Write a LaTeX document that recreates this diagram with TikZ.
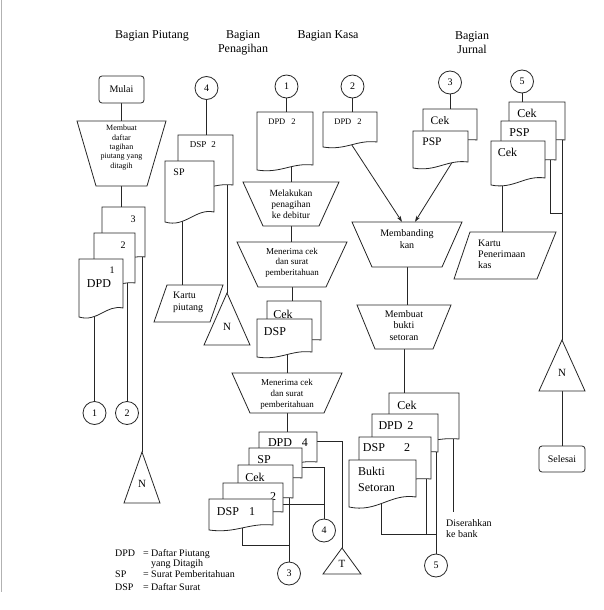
\documentclass[tikz,border=0pt]{standalone}
\usepackage{fontspec}
\setmainfont{Liberation Serif}
\usetikzlibrary{arrows.meta,calc,fit}
\pgfdeclarelayer{bg}
\pgfsetlayers{bg,main}
\newcommand\fsz[2]{\fontsize{#1}{#2}\selectfont}
% document symbol: name, x1, ytop, x2, y right bottom, y left bottom
\newcommand\mydoc[6]{%
 \pgfmathsetmacro\dwa{#2+0.42*(#4-#2)}%
 \pgfmathsetmacro\dwb{#2+0.62*(#4-#2)}%
 \pgfmathsetmacro\dwy{#6+0.45*(#6-#5)+1.5}%
 \pgfmathsetmacro\dwz{#5-0.3*(#6-#5)-1}%
 \filldraw[shp] (#2,#3) -- (#4,#3) -- (#4,#5) .. controls (\dwb,\dwz) and (\dwa,\dwy) .. (#2,#6) -- cycle;
 \node[fit={(#2,#3) (#4,#5)}, inner sep=0pt] (#1) {};}
% quadrilateral: name, xTL, xTR, yT, xBL, xBR, yB
\newcommand\myquad[7]{%
 \filldraw[shp] (#2,#4) -- (#3,#4) -- (#6,#7) -- (#5,#7) -- cycle;
 \pgfmathsetmacro\qa{min(#2,#5)}\pgfmathsetmacro\qb{max(#3,#6)}%
 \node[fit={(\qa,#4) (\qb,#7)}, inner sep=0pt] (#1) {};}
% triangle: name, apex x, apex y, xL, xR, yB
\newcommand\mytri[6]{%
 \filldraw[shp] (#2,#3) -- (#5,#6) -- (#4,#6) -- cycle;
 \node[fit={(#4,#3) (#5,#6)}, inner sep=0pt] (#1) {};}
\tikzset{
 shp/.style={line width=0.8pt, draw=black!85, fill=white},
 conn/.style={line width=0.8pt, draw=black!85},
 arr/.style={conn, -{Stealth[length=6pt,width=4pt]}},
 circ/.style={circle, draw=black!85, line width=0.8pt, fill=white, minimum size=23pt, inner sep=0pt, font={\fsz{10}{10}}},
 term/.style={rectangle, rounded corners=3pt, draw=black!85, line width=0.8pt, fill=white, inner sep=0pt},
 tx/.style={inner sep=0pt, align=center},
 txl/.style={inner sep=0pt, align=left}
}
\begin{document}
\begin{tikzpicture}[x=1pt,y=-1pt,font={\fsz{12}{14}}]
\useasboundingbox (0,0) rectangle (603,610);
\begin{pgfonlayer}{bg}
\fill[white] (0,0) rectangle (603,610);
\end{pgfonlayer}
\draw[black!30, line width=1pt] (1,0) -- (1,592);
% headers
\node[tx] (h1) at (152,36) {Bagian Piutang};
\node[tx] (h2) at (243,43) {Bagian\\Penagihan};
\node[tx] (h3) at (328,36) {Bagian Kasa};
\node[tx] (h4) at (472,43) {Bagian\\Jurnal};
% ---- Piutang
\node[term, minimum width=45pt, minimum height=27pt, font={\fsz{10}{12}}] (mulai) at (121.5,89.5) {Mulai};
\myquad{tr1}{77}{166}{121}{96}{147}{186}
\node[tx, font={\fsz{8}{9.3}}] (tr1t) at (121.5,147.5) {Membuat\\daftar\\tagihan\\piutang yang\\ditagih};
\mydoc{p3}{102}{207}{145}{257}{262}
\node[tx,font={\fsz{10}{12}}] (p3t) at (133,219) {3};
\mydoc{p2}{94}{233}{135}{283}{288}
\node[tx,font={\fsz{10}{12}}] (p2t) at (123,245) {2};
\mydoc{p1}{79}{259}{123}{308}{317}
\node[tx,font={\fsz{10}{12}}] (p1t) at (112,270) {1};
\node[tx] (p1u) at (99,284) {DPD};
\node[circ] (c1a) at (94.5,413) {1};
\node[circ] (c2a) at (127,413) {2};
\mytri{n1}{142}{452}{124}{160}{503}
\node[tx,font={\fsz{11}{12}}] (n1t) at (142,484) {N};
% ---- Penagihan (4)
\node[circ] (c4a) at (206.5,88) {4};
\mydoc{dsa}{178}{135}{233}{185}{190}
\node[tx,font={\fsz{9}{10}}] (dsat) at (203,145) {DSP\hspace{5pt}2};
\mydoc{spa}{165}{161}{214}{212}{222}
\node[tx,font={\fsz{10}{12}}] (spat) at (179,172) {SP};
\myquad{kp}{167}{223}{285}{154}{210}{322}
\node[txl,font={\fsz{10}{12}},anchor=west] (kpt) at (173,302) {Kartu\\piutang};
\mytri{n2}{227}{293}{204}{250}{345}
\node[tx,font={\fsz{11}{12}}] (n2t) at (227,327) {N};
% ---- Penagihan (1)
\node[circ] (c1b) at (286.5,86.5) {1};
\mydoc{dpb}{257}{112}{313}{165}{170}
\node[tx,font={\fsz{8.5}{10}}] (dpbt) at (282,122) {DPD\hspace{6pt}2};
\myquad{tr2}{243}{339}{182}{263}{319}{226}
\node[tx,font={\fsz{9.5}{11}}] (tr2t) at (291,204) {Melakukan\\penagihan\\ke debitur};
\myquad{tr3}{237}{347}{242}{258}{326}{287}
\node[tx,font={\fsz{9}{10.5}}] (tr3t) at (292,262.5) {Menerima cek\\dan surat\\pemberitahuan};
\mydoc{ckb}{267}{301}{321}{340}{345}
\node[tx] (ckbt) at (283,314) {Cek};
\mydoc{dsb}{257}{319}{312}{352}{357}
\node[tx] (dsbt) at (275,332) {DSP};
\myquad{tr4}{232}{342}{373}{250}{324}{413}
\node[tx,font={\fsz{9}{11}}] (tr4t) at (287,394) {Menerima cek\\dan surat\\pemberitahuan};
\mydoc{dp4}{259}{432}{317}{462}{467}
\node[tx] (dp4t) at (288,443) {DPD\hspace{10pt}4};
\mydoc{spb}{249}{448}{302}{478}{483}
\node[tx] (spbt) at (264,460) {SP};
\mydoc{ckc}{238}{465}{293}{498}{503}
\node[tx] (ckct) at (255,477) {Cek};
\mydoc{dd2}{223}{483}{283}{512}{517}
\node[tx] (dd2t) at (273,497) {2};
\mydoc{ds1}{209}{499}{273}{525}{530}
\node[tx] (ds1t) at (228,512) {DSP};
\node[tx] (ds1u) at (252,512) {1};
\mytri{tt}{342}{548}{323}{361}{574}
\node[tx,font={\fsz{11}{12}}] (ttt) at (342,564) {T};
\node[circ] (c4b) at (324,530.5) {4};
\node[circ] (c3b) at (289,573.5) {3};
% ---- Kasa
\node[circ] (c2b) at (352.5,86.5) {2};
\mydoc{dpc}{323}{112}{377}{142}{147}
\node[tx,font={\fsz{8.5}{10}}] (dpct) at (348,122) {DPD\hspace{6pt}2};
\myquad{tr5}{352}{462}{222}{372}{442}{267}
\node[tx,font={\fsz{10}{12}}] (tr5t) at (407,239) {Membanding\\kan};
\myquad{tr6}{357}{451}{305}{375}{433}{349}
\node[tx,font={\fsz{10}{11.5}}] (tr6t) at (404,325.5) {Membuat\\bukti\\setoran};
\mydoc{ckd}{389}{393}{459}{439}{444}
\node[tx] (ckdt) at (407,405) {Cek};
\mydoc{dpd}{372}{414}{438}{452}{457}
\node[tx] (dpdt) at (396,426) {DPD\hspace{5pt}2};
\mydoc{dsd}{359}{437}{431}{479}{484}
\node[tx] (dsdt) at (374,448) {DSP};
\node[tx] (dsdu) at (407,448) {2};
\mydoc{bk}{349}{460}{416}{497}{507}
\node[txl,font={\fsz{12}{16}},anchor=west] (bkt) at (358,479) {Bukti\\Setoran};
\node[circ] (c5b) at (436,565.5) {5};
\node[txl,font={\fsz{10}{11}},anchor=west] (dis) at (446,528.5) {Diserahkan\\ke bank};
% ---- Jurnal (3)
\node[circ] (c3a) at (450,82.5) {3};
\mydoc{cke}{423}{109}{477}{140}{145}
\node[tx,font={\fsz{11.5}{14}}] (cket) at (440,121) {Cek};
\mydoc{psa}{413}{131}{468}{162}{168}
\node[tx,font={\fsz{11.5}{14}}] (psat) at (432,142) {PSP};
% ---- Jurnal (5)
\node[circ] (c5a) at (522,81.5) {5};
\mydoc{ckf}{509}{102}{565}{140}{145}
\node[tx] (ckft) at (527,113) {Cek};
\mydoc{psf}{501}{121}{556}{160}{165}
\node[tx] (psft) at (519.5,133) {PSP};
\mydoc{ckg}{491}{141}{545}{178}{185}
\node[tx] (ckgt) at (507.5,152) {Cek};
\myquad{kpk}{470}{556}{232}{454}{537}{279}
\node[txl,font={\fsz{10}{11}},anchor=west] (kpkt) at (478,254) {Kartu\\Penerimaan\\kas};
\mytri{n3}{562}{340}{539}{585}{391}
\node[tx,font={\fsz{11}{12}}] (n3t) at (562,373) {N};
\node[term, minimum width=46pt, minimum height=26pt, font={\fsz{10}{12}}] (sel) at (562,459) {Selesai};
% ---- legend
\begin{scope}[font={\fsz{10}{12}}]
\node[inner sep=0pt, anchor=base west] (lg1) at (115,556.5) {DPD};
\node[inner sep=0pt, anchor=base] (lg1e) at (146,556.5) {=};
\node[inner sep=0pt, anchor=base west] (lg1t) at (151,556.5) {Daftar Piutang};
\node[inner sep=0pt, anchor=base west] (lg1u) at (151,566.5) {yang Ditagih};
\node[inner sep=0pt, anchor=base west] (lg2) at (115,577.5) {SP};
\node[inner sep=0pt, anchor=base] (lg2e) at (146,577.5) {=};
\node[inner sep=0pt, anchor=base west] (lg2t) at (151,577.5) {Surat Pemberitahuan};
\node[inner sep=0pt, anchor=base west] (lg3) at (115,590.5) {DSP};
\node[inner sep=0pt, anchor=base] (lg3e) at (146,590.5) {=};
\node[inner sep=0pt, anchor=base west] (lg3t) at (151,590.5) {Daftar Surat};
\end{scope}
% ---- connectors
\begin{pgfonlayer}{bg}
\draw[conn] (mulai.south) -- (tr1.north);
\draw[conn] (tr1.south) -- (tr1.south |- p3.north);
\draw[conn] (c1a.north |- p1.south) -- (c1a.north);
\draw[conn] (c2a.north |- p2.south) -- (c2a.north);
\draw[conn] (n1.north |- p3.south) -- (n1.north);
\draw[conn] (c4a.south) -- (c4a.south |- dsa.north);
\coordinate (a1) at ($(spa.south west)+(18,0)$);
\draw[conn] (a1) -- (a1 |- kp.north);
\draw[conn] (n2.north |- dsa.south) -- (n2.north);
\draw[conn] (c1b.south) -- (c1b.south |- dpb.north);
\draw[conn] (tr2.north |- dpb.south) -- (tr2.north);
\draw[conn] (tr2.south) -- (tr2.south |- tr3.north);
\draw[conn] (tr3.south) -- (tr3.south |- ckb.north);
\draw[conn] (tr4.north |- dsb.south) -- (tr4.north);
\draw[conn] (tr4.south) -- (tr4.south |- dp4.north);
\coordinate (b1) at ($(dp4.north east)+(0,10)$);
\draw[conn] (b1) -| (tt.north);
\coordinate (b2) at ($(spb.north east)+(0,20)$);
\draw[conn] (b2) -| (c4b.north);
\coordinate (b3) at ($(dd2.north east)+(0,22)$);
\draw[conn] (b3) -- (b3 -| c4b.north);
\draw[conn] (c3b.north |- ckc.south) -- (c3b.north);
\coordinate (b4) at ($(ds1.south west)+(34,0)$);
\draw[conn] (b4) |- ($(c3b.north)+(0,-16)$);
\draw[conn] (c2b.south) -- (c2b.south |- dpc.north);
\draw[arr] (dpc.south) -- ($(tr5.north)+(-5,0)$);
\coordinate (d1) at ($(psa.south east)+(-16,0)$);
\draw[arr] (d1) -- ($(tr5.north)+(8,0)$);
\draw[conn] (tr5.south) -- (tr5.south |- tr6.north);
\draw[conn] (tr6.south) -- (tr6.south |- ckd.north);
\coordinate (e1) at ($(ckd.south east)+(-6,0)$);
\draw[conn] (e1) -- ++(0,73);
\draw[conn] (c5b.north |- dpd.south) -- (c5b.north);
\coordinate (e2) at ($(bk.south west)+(33,37)$);
\coordinate (e3) at ($(dsd.south east)+(-5,0)$);
\draw[conn] (e2 |- bk.south) -- (e2) -- (e2 -| c5b.north);
\draw[conn] (e3) -- (e3 |- e2);
\draw[conn] (c3a.south) -- (c3a.south |- cke.north);
\draw[conn] (c5a.south) -- (c5a.south |- ckf.north);
\coordinate (f1) at ($(ckg.south west)+(12,0)$);
\draw[conn] (f1) -- (f1 |- kpk.north);
\coordinate (f2) at ($(psf.south east)+(-6,0)$);
\draw[conn] (f2) |- ($(n3.north)+(0,-126)$);
\draw[conn] (n3.north |- ckf.south) -- (n3.north);
\draw[conn] (n3.south) -- (sel.north);
\end{pgfonlayer}
\end{tikzpicture}
\end{document}
